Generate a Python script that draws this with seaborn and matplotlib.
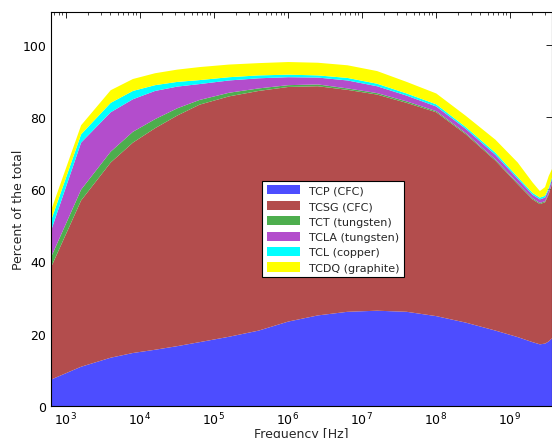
# load libraries
import seaborn as sns
import matplotlib.pyplot as plt
import numpy as np

# frequency grid [Hz]
freq = [631, 1585, 3981, 7943, 1.585e4, 3.162e4, 6.31e4, 1.585e5, 3.98e5, 1e6,
        2.51e6, 6.31e6, 1.585e7, 3.98e7, 1e8, 2.51e8, 6.31e8, 1.26e9, 2.0e9,
        2.51e9, 2.95e9, 3.31e9, 3.72e9]

# share of each collimator family, percent of the total
tcp  = [7.5, 11, 13.5, 14.8, 15.7, 16.7, 17.8, 19.3, 21, 23.5, 25.2, 26.2, 26.5,
        26.2, 25, 23.2, 21, 19.2, 17.8, 17.2, 17.4, 18.0, 19.0]
tcsg = [31.3, 46, 54, 58.2, 61.3, 63.8, 65.7, 66.5, 66.3, 64.9, 63.4, 61.4, 59.8,
        57.8, 56.4, 52.1, 47, 42.3, 39.5, 38.8, 39.1, 40.7, 43.0]
tct  = [2.8, 3, 3, 3, 2.5, 2.0, 1.3, 1.0, 0.7, 0.5, 0.5, 0.4, 0.4,
        0.4, 0.3, 0.3, 0.3, 0.3, 0.3, 0.3, 0.3, 0.3, 0.3]
tcla = [7.4, 13, 10.9, 9, 7.8, 6.0, 4.4, 3.4, 2.8, 2.2, 1.9, 2.2, 1.9,
        1.6, 1.3, 1.2, 1.3, 1.2, 1.0, 1.0, 1.0, 1.0, 1.0]
tcl  = [2.8, 2.3, 2.6, 2.3, 1.6, 1.3, 1.1, 0.9, 0.8, 0.7, 0.6, 0.7, 0.7,
        0.6, 0.6, 0.5, 0.6, 0.5, 0.5, 0.5, 0.5, 0.5, 0.5]
tcdq = [2.8, 2.5, 3.5, 3.3, 3.3, 3.4, 3.6, 3.5, 3.4, 3.5, 3.5, 3.5, 3.5,
        3.2, 3.0, 3.1, 3.6, 4.0, 2.9, 1.8, 2.4, 3.3, 2.2]

labels = ['TCP (CFC)', 'TCSG (CFC)', 'TCT (tungsten)', 'TCLA (tungsten)',
          'TCL (copper)', 'TCDQ (graphite)']
colors = ['#4d4dff', '#b34d4d', '#4dae4d', '#b34dcc', '#00ffff', '#ffff00']


sns.set_style('white')
plt.rcParams['font.family'] = ['DejaVu Sans']

fig = plt.figure(figsize=(5.52, 4.39), dpi=100)
ax = fig.add_axes([51/552, 1-407/439, 1-51/552, (407-13)/439])

ax.stackplot(freq, tcp, tcsg, tct, tcla, tcl, tcdq,
             labels=labels, colors=sns.color_palette(colors), linewidth=0)

ax.set_xscale('log')
ax.set_xlim(min(freq), max(freq))
ax.set_ylim(0, 109)
ax.set_yticks(np.arange(0, 101, 20))

# ticks inside, classic look
ax.tick_params(axis='both', which='both', direction='in', top=True, right=True,
               labelsize=9, colors='black')
ax.tick_params(axis='both', which='major', length=4, width=0.6)
ax.tick_params(axis='x', which='minor', length=2, width=0.5)
for s in ax.spines.values():
    s.set_color('black')
    s.set_linewidth(0.8)

ax.set_xlabel('Frequency [Hz]', fontsize=9, labelpad=0)
ax.set_ylabel('Percent of the total', fontsize=9, labelpad=-2)

# legend in the middle of the plot
leg = ax.legend(loc='center', bbox_to_anchor=(0.563, 0.449), fontsize=8,
                fancybox=False, framealpha=1, edgecolor='black',
                handlelength=3, handleheight=0.9, borderpad=0.4, labelspacing=0.45)
leg.get_frame().set_linewidth(0.8)

plt.savefig('out.png', dpi=100)
